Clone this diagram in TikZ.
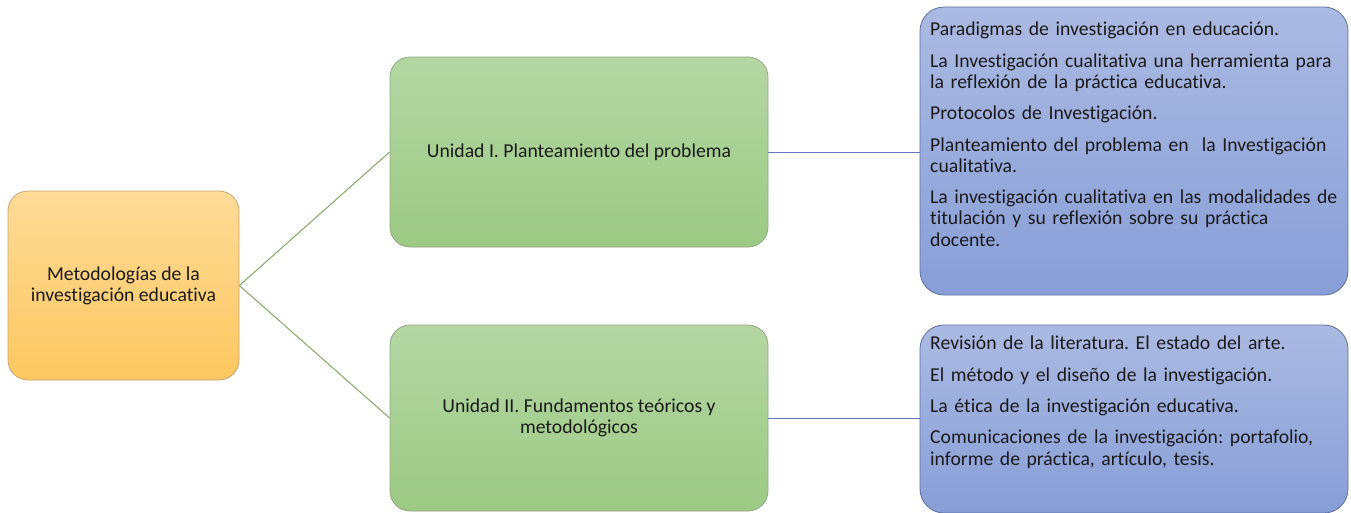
\documentclass[tikz,border=0pt]{standalone}
\usepackage{fontspec}
\setmainfont{Carlito}[Ligatures=NoCommon]
\frenchspacing
\definecolor{orTop}{HTML}{FEDB98}
\definecolor{orBot}{HTML}{FCC75F}
\definecolor{orLine}{HTML}{C8A56E}
\definecolor{grTop}{HTML}{B5D6A3}
\definecolor{grBot}{HTML}{9CCA84}
\definecolor{grLine}{HTML}{8FA985}
\definecolor{blTop}{HTML}{ABBAE2}
\definecolor{blBot}{HTML}{889ED8}
\definecolor{blLine}{HTML}{5D6F9F}
\definecolor{conGreen}{HTML}{7FAB62}
\definecolor{conBlue}{HTML}{6077BD}
\definecolor{txt}{HTML}{1A1A1A}
\begin{document}
\begin{tikzpicture}[x=1pt,y=-1pt,
  txtfont/.style={font=\fontsize{19.7}{21.3}\selectfont, text=txt},
  orbox/.style={rounded corners=20pt, draw=orLine, line width=0.8pt, top color=orTop, bottom color=orBot, inner sep=0pt, align=center, txtfont},
  grbox/.style={rounded corners=20pt, draw=grLine, line width=0.8pt, top color=grTop, bottom color=grBot, inner sep=0pt, align=center, txtfont},
  blbox/.style={rounded corners=24pt, draw=blLine, line width=0.8pt, top color=blTop, bottom color=blBot, inner sep=0pt},
  bltext/.style={anchor=north west, inner sep=0pt, text width=416pt, align=left, txtfont},
  gcon/.style={draw=conGreen, line width=1pt},
  bcon/.style={draw=conBlue, line width=1pt}
]
\useasboundingbox (0,0) rectangle (1351,512);
\node[orbox, minimum width=231pt, minimum height=189pt] (root) at (123.5,285.5) {Metodologías de la\\investigación educativa};
\node[grbox, minimum width=378pt, minimum height=190pt] (u1) at (579,152) {Unidad I. Planteamiento del problema};
\node[grbox, minimum width=378pt, minimum height=186pt] (u2) at (579,418) {Unidad II. Fundamentos teóricos y\\metodológicos};
\node[blbox, minimum width=428pt, minimum height=288pt] (b1) at (1134,151) {};
\node[blbox, minimum width=428pt, minimum height=188pt] (b2) at (1134,419) {};
\node[bltext] (t1) at (930,22) {Paradigmas de investigación en educación.\\[10pt]
La Investigación cualitativa una herramienta para\\la reflexión de la práctica educativa.\\[10pt]
Protocolos de Investigación.\\[10pt]
Planteamiento del problema en\ \ la Investigación\\cualitativa.\\[10pt]
La investigación cualitativa en las modalidades de\\titulación y su reflexión sobre su práctica\\docente.};
\node[bltext] (t2) at (930,336) {Revisión de la literatura. El estado del arte.\\[10pt]
El método y el diseño de la investigación.\\[10pt]
La ética de la investigación educativa.\\[10pt]
Comunicaciones de la investigación: portafolio,\\informe de práctica, artículo, tesis.};
\draw[gcon] (root.east) -- (u1.west);
\draw[gcon] (root.east) -- (u2.west);
\draw[bcon] (u1.east) -- (u1.east -| b1.west);
\draw[bcon] (u2.east) -- (u2.east -| b2.west);
\end{tikzpicture}
\end{document}
